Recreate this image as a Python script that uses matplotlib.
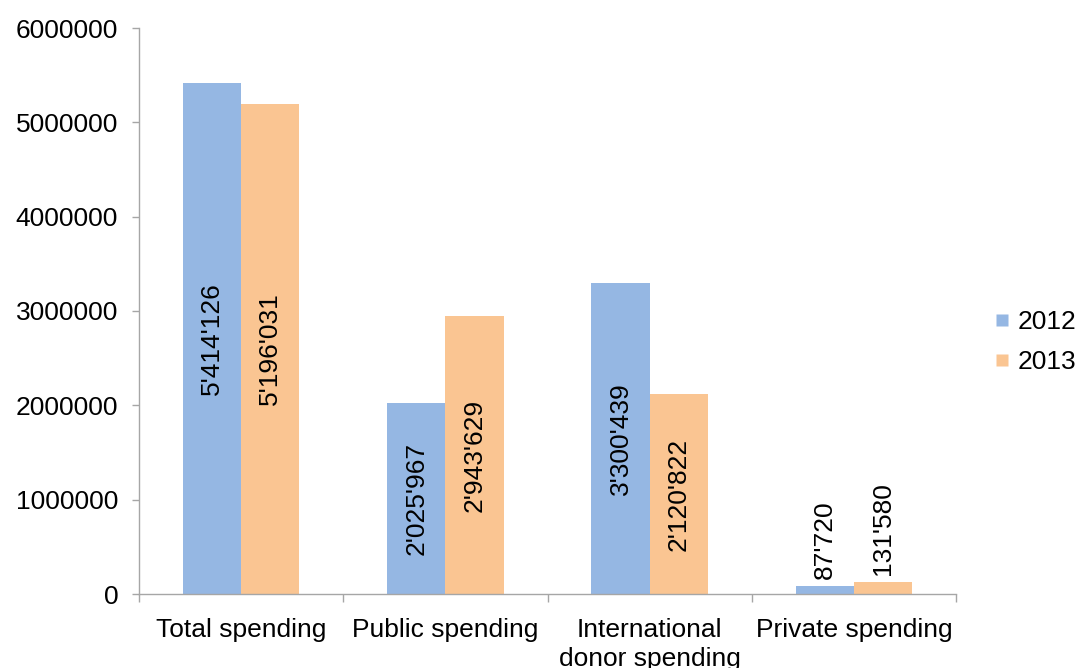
import matplotlib
matplotlib.use("Agg")
import matplotlib.pyplot as plt
from matplotlib.lines import Line2D
import numpy as np

plt.rcParams['font.family'] = ['Liberation Sans', 'DejaVu Sans']

categories = ["Total spending", "Public spending", "International\ndonor spending", "Private spending"]
years = ["2012", "2013"]
values_2012 = [5414126, 2025967, 3300439, 87720]
values_2013 = [5196031, 2943629, 2120822, 131580]
y_ticks = [0, 1000000, 2000000, 3000000, 4000000, 5000000, 6000000]

colors = ["#95B7E3", "#FAC592"]
fs = 19

fig = plt.figure(figsize=(10.79, 6.68), dpi=100)
ax = fig.add_axes([139 / 1079, 1 - 594 / 668, (956 - 139) / 1079, (594 - 28) / 668])

x = np.arange(len(categories))
w = 0.285
series = [values_2012, values_2013]
for i, (vals, col) in enumerate(zip(series, colors)):
    pos = x + (i - 0.5) * w
    bars = ax.bar(pos, vals, width=w, color=col, edgecolor='none', zorder=2)
    for b, v in zip(bars, vals):
        txt = f"{v:,}".replace(",", "'")
        cx = b.get_x() + b.get_width() / 2
        if v > 500000:
            ax.text(cx, v / 2, txt, rotation=90, ha='center', va='center',
                    fontsize=fs, color='black', zorder=3)
        else:
            ax.annotate(txt, (cx, v), xytext=(0, 5), textcoords='offset points',
                        rotation=90, ha='center', va='bottom',
                        fontsize=fs, color='black', zorder=3)

ax.set_xlim(-0.5, len(categories) - 0.5)
ax.set_ylim(0, 6000000)
ax.set_yticks(y_ticks)
ax.set_yticklabels([str(t) for t in y_ticks], fontsize=fs)
ax.set_xticks(x)
ax.set_xticklabels(categories, fontsize=fs, linespacing=1.3)
ax.set_xticks(np.arange(-0.5, len(categories), 1.0), minor=True)

axis_col = "#A6A6A6"
for s in ['top', 'right']:
    ax.spines[s].set_visible(False)
for s in ['left', 'bottom']:
    ax.spines[s].set_color(axis_col)
    ax.spines[s].set_linewidth(1.0)

ax.tick_params(axis='y', direction='out', length=5, width=1.0, color=axis_col, pad=10)
ax.tick_params(axis='x', which='major', length=0, pad=17)
ax.tick_params(axis='x', which='minor', direction='out', length=6, width=1.0, color=axis_col)

handles = [Line2D([], [], marker='s', linestyle='none', markersize=8.6,
                  markerfacecolor=c, markeredgecolor='none') for c in colors]
fig.legend(handles, years, loc='center left', bbox_to_anchor=(994 / 1079, 1 - 342 / 668),
           frameon=False, fontsize=fs, handlelength=0.6, handletextpad=0.3,
           labelspacing=0.6, borderpad=0, borderaxespad=0)

fig.savefig("out.png", dpi=100)
